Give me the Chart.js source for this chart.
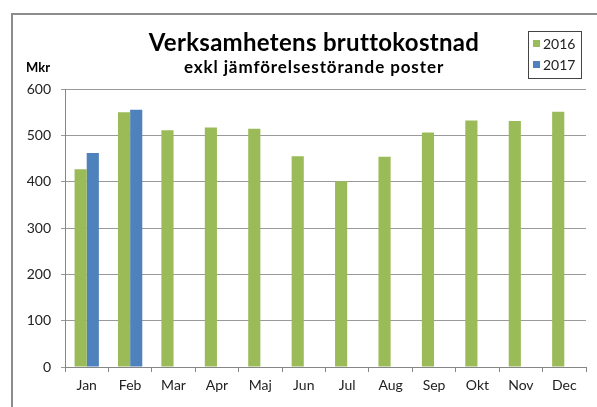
<!DOCTYPE html>
<html>
<head>
<meta charset="utf-8">
<script src="https://cdn.jsdelivr.net/npm/chart.js@4"></script>
<style>
  body { margin: 0; background: #fff; overflow: hidden; }
  #cornice { position: absolute; left: 11px; top: 13px; width: 700px; height: 500px; border: 2px solid #8c8c8c; }
  #wrap { position: absolute; left: 0; top: 0; width: 597px; height: 407px; }
</style>
</head>
<body>
<div id="cornice"></div>
<div id="wrap"><canvas id="chart"></canvas></div>
<script>
const mesi = ['Jan', 'Feb', 'Mar', 'Apr', 'Maj', 'Jun', 'Jul', 'Aug', 'Sep', 'Okt', 'Nov', 'Dec'];
const valori2016 = [427, 550, 511, 517, 514, 455, 401, 454, 506, 532, 531, 551];
const valori2017 = [462, 555, null, null, null, null, null, null, null, null, null, null];
const tickY = [0, 100, 200, 300, 400, 500, 600];

const titolo = 'Verksamhetens bruttokostnad';
const sottotitolo = 'exkl jämförelsestörande poster';
const unita = 'Mkr';

const font = 'Lato, "DejaVu Sans", sans-serif';

// titolo, Mkr e legenda disegnati a mano
const testi = {
    id: 'testi',
    afterDraw(chart) {
        const c = chart.ctx;
        c.save();
        c.fillStyle = '#000';
        c.textAlign = 'center';
        c.textBaseline = 'middle';
        c.font = 'bold 24px ' + font;
        c.letterSpacing = '0.3px';
        c.fillText(titolo, 314, 43);
        c.font = 'bold 17px ' + font;
        c.letterSpacing = '0.9px';
        c.fillText(sottotitolo, 314, 68);
        c.letterSpacing = '0px';
        c.font = 'bold 13px ' + font;
        c.textAlign = 'left';
        c.fillText(unita, 26, 68);

        // legenda
        c.strokeStyle = '#444';
        c.lineWidth = 1;
        c.strokeRect(528.5, 31.5, 53, 47);
        const ds = chart.data.datasets;
        c.font = '14px ' + font;
        ds.forEach((d, i) => {
            const y = 44 + i * 21;
            c.fillStyle = d.backgroundColor;
            c.fillRect(533, y - 4, 7, 7);
            c.fillStyle = '#222';
            c.fillText(d.label, 543, y);
        });
        c.restore();
    }
};

const chart = new Chart(document.querySelector('#chart'), {
    type: 'bar',
    data: {
        labels: mesi,
        datasets: [
            { label: '2016', data: valori2016, backgroundColor: '#9BBB59' },
            { label: '2017', data: valori2017, backgroundColor: '#4F81BD' }
        ]
    },
    options: {
        responsive: true,
        maintainAspectRatio: false,
        animation: false,
        layout: { padding: { left: 0, top: 89, right: 11, bottom: 0 } },
        datasets: { bar: { categoryPercentage: 0.56, barPercentage: 1 } },
        plugins: {
            legend: { display: false },
            tooltip: { enabled: false }
        },
        scales: {
            x: {
                grid: { drawOnChartArea: false, offset: true, tickLength: 5, color: '#868686' },
                border: { color: '#868686' },
                ticks: { color: '#222', font: { family: font, size: 14 }, padding: 5 },
                afterFit: s => { s.height = 40; }
            },
            y: {
                min: 0,
                max: 600,
                afterBuildTicks: s => { s.ticks = tickY.map(v => ({ value: v })); },
                grid: { color: '#9a9a9a', tickLength: 4 },
                border: { color: '#868686' },
                ticks: { color: '#222', font: { family: font, size: 14 }, padding: 10 },
                afterFit: s => { s.width = 65; }
            }
        }
    },
    plugins: [testi]
});
</script>
</body>
</html>
